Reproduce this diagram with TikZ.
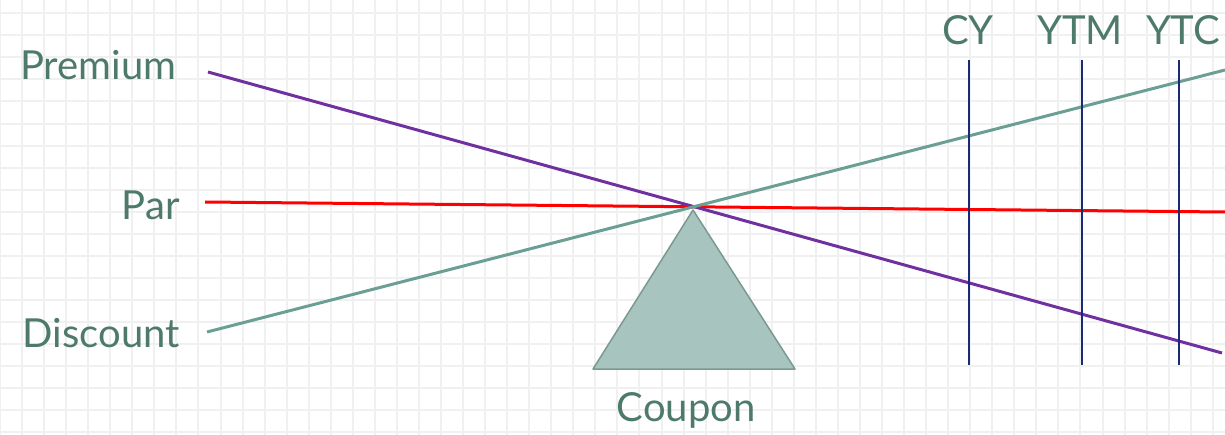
\documentclass[tikz,border=0pt]{standalone}
\usepackage{fontspec}
\setmainfont{Lato}
\definecolor{labelgreen}{HTML}{4E7A6C}
\definecolor{linegreen}{HTML}{6B9F94}
\definecolor{linepurple}{HTML}{7030A0}
\definecolor{tipfill}{HTML}{A8C4BE}
\definecolor{tipdraw}{HTML}{7A9990}
\definecolor{markblue}{HTML}{1A2A78}
\definecolor{gridgrey}{HTML}{F0F0F0}
\tikzset{
  lbl/.style={text=labelgreen,font=\fontsize{40}{44}\selectfont,inner sep=0pt},
  beam/.style={line width=3pt},
  marker/.style={markblue,line width=1.4pt}
}
\begin{document}
\begin{tikzpicture}[x=1pt,y=-1pt,line join=round]
			\useasboundingbox (0,0) rectangle (1225,435);
			% background grid
			\foreach \i in {0,...,55} \draw[gridgrey,line width=2pt] (22.05*\i,0)--(22.05*\i,435);
			\foreach \j in {0,...,19} \draw[gridgrey,line width=2pt] (0,13.3+22.05*\j)--(1225,13.3+22.05*\j);
			% labels
			\node[lbl,anchor=west] (premium) at (20,65) {Premium};
			\node[lbl,anchor=east] (par) at (180,205) {Par};
			\node[lbl,anchor=east] (discount) at (180,333) {Discount};
			\node[lbl] (coupon) at (686,410) {Coupon};
			\node[lbl] (cy) at (968,30) {CY};
			\node[lbl] (ytm) at (1080,30) {YTM};
			\node[lbl] (ytc) at (1183,30) {YTC};
			% fulcrum
			\draw[tipdraw,fill=tipfill,line width=1.5pt] (693,210)--(593,369)--(795,369)--cycle;
			% beams
			\coordinate (p1) at (208,72); \coordinate (p2) at (1222,353);
			\coordinate (r1) at (205,202); \coordinate (r2) at (1225,212);
			\coordinate (d1) at (207,332); \coordinate (d2) at (1225,70);
			\draw[beam,red] (r1)--(r2);
			\draw[beam,linepurple] (p1)--(p2);
			\draw[beam,linegreen] (d1)--(d2);
			% yield markers
			\foreach \x/\n in {969/cy,1082/ytm,1179/ytc}
				\draw[marker] (\x,60)--(\x,365);
	\end{tikzpicture}
\end{document}
